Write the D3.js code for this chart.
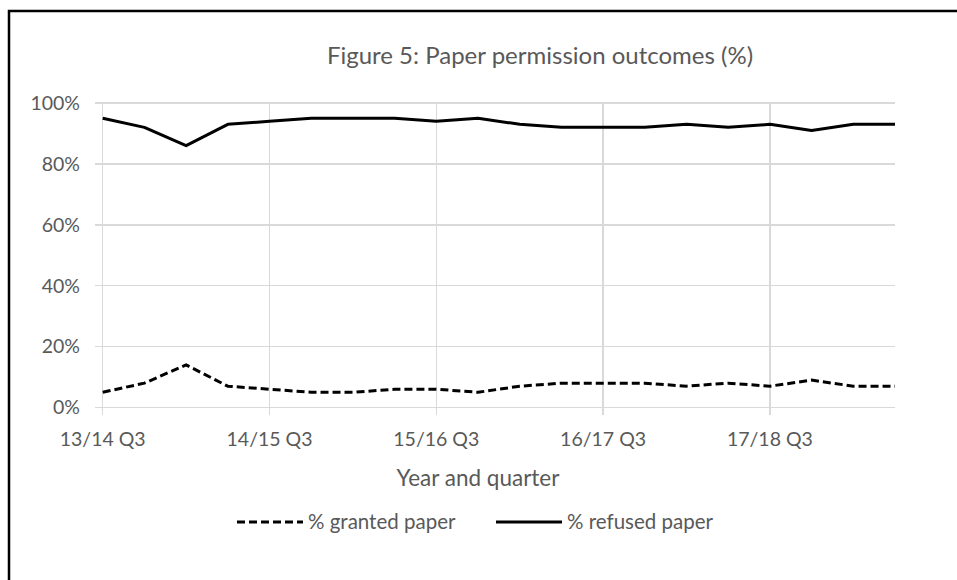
<!DOCTYPE html>
<html lang="en">
<head>
  <meta charset="UTF-8" />
  <title>Figure 5: Paper permission outcomes (%)</title>
  <script src="https://d3js.org/d3.v7.min.js"></script>
  <style>
    html, body { margin: 0; background: #fff; }
    svg { display: block; font-family: Lato, "Open Sans", sans-serif; }
    .grid line { stroke: #d9d9d9; stroke-width: 1.5; shape-rendering: crispEdges; }
    .lbl { fill: #595959; font-size: 19.5px; }
    .leg { fill: #595959; font-size: 20.5px; }
  </style>
</head>
<body>
  <svg id="chart" width="957" height="580"></svg>
  <script>
    const quarters = [
      '13/14 Q3', '13/14 Q4', '14/15 Q1', '14/15 Q2',
      '14/15 Q3', '14/15 Q4', '15/16 Q1', '15/16 Q2',
      '15/16 Q3', '15/16 Q4', '16/17 Q1', '16/17 Q2',
      '16/17 Q3', '16/17 Q4', '17/18 Q1', '17/18 Q2',
      '17/18 Q3', '17/18 Q4', '18/19 Q1', '18/19 Q2'
    ];
    const grantedPaper = [5, 8, 14, 7, 6, 5, 5, 6, 6, 5, 7, 8, 8, 8, 7, 8, 7, 9, 7, 7];
    const refusedPaper = [95, 92, 86, 93, 94, 95, 95, 95, 94, 95, 93, 92, 92, 92, 93, 92, 93, 91, 93, 93];
    const yTicks = [0, 20, 40, 60, 80, 100];
    const labelledQuarters = quarters.filter((q, i) => i % 4 === 0);

    const svg = d3.select('#chart');

    // outer frame (chart area runs off the right/bottom edge)
    svg.append('path')
      .attr('d', 'M9,590 L9,11 L970,11')
      .attr('fill', 'none')
      .attr('stroke', '#000')
      .attr('stroke-width', 2.5);

    const x = d3.scalePoint().domain(quarters).range([102.7, 895]);
    const y = d3.scaleLinear().domain([0, 100]).range([407.5, 103]);

    // horizontal gridlines + y labels
    const gy = svg.append('g').attr('class', 'grid');
    gy.selectAll('line').data(yTicks).enter().append('line')
      .attr('x1', 95).attr('x2', 895)
      .attr('y1', d => y(d)).attr('y2', d => y(d));
    svg.append('g').selectAll('text').data(yTicks).enter().append('text')
      .attr('class', 'lbl')
      .attr('x', 80).attr('y', d => y(d))
      .attr('dy', '0.35em')
      .attr('text-anchor', 'end')
      .text(d => d + '%');

    // vertical gridlines at labelled quarters
    const gx = svg.append('g').attr('class', 'grid');
    gx.selectAll('line').data(labelledQuarters).enter().append('line')
      .attr('x1', d => x(d)).attr('x2', d => x(d))
      .attr('y1', y(100)).attr('y2', y(0) + 7);
    svg.append('g').selectAll('text').data(labelledQuarters).enter().append('text')
      .attr('class', 'lbl')
      .attr('x', d => x(d)).attr('y', 439)
      .attr('dy', '0.35em')
      .attr('text-anchor', 'middle')
      .text(d => d);

    // axis title
    svg.append('text')
      .attr('x', 478).attr('y', 478).attr('dy', '0.35em')
      .attr('text-anchor', 'middle')
      .attr('fill', '#595959').style('font-size', '22.5px')
      .text('Year and quarter');

    // title
    svg.append('text')
      .attr('x', 540).attr('y', 56).attr('dy', '0.35em')
      .attr('text-anchor', 'middle')
      .attr('fill', '#595959').style('font-size', '24px')
      .text('Figure 5: Paper permission outcomes (%)');

    const line = d3.line()
      .x((d, i) => x(quarters[i]))
      .y(d => y(d));

    svg.append('path').datum(grantedPaper)
      .attr('d', line)
      .attr('fill', 'none').attr('stroke', '#000')
      .attr('stroke-width', 3)
      .attr('stroke-dasharray', '8,4');

    svg.append('path').datum(refusedPaper)
      .attr('d', line)
      .attr('fill', 'none').attr('stroke', '#000')
      .attr('stroke-width', 3)
      .attr('stroke-linejoin', 'round');

    // legend
    const legendItems = [
      { name: '% granted paper', dash: '8,4', x0: 237 },
      { name: '% refused paper', dash: null, x0: 496 }
    ];
    const lg = svg.append('g');
    legendItems.forEach(it => {
      lg.append('line')
        .attr('x1', it.x0).attr('x2', it.x0 + 66)
        .attr('y1', 522).attr('y2', 522)
        .attr('stroke', '#000').attr('stroke-width', 3)
        .attr('stroke-dasharray', it.dash);
      lg.append('text')
        .attr('class', 'leg')
        .attr('x', it.x0 + 71).attr('y', 522).attr('dy', '0.35em')
        .text(it.name);
    });
  </script>
</body>
</html>
